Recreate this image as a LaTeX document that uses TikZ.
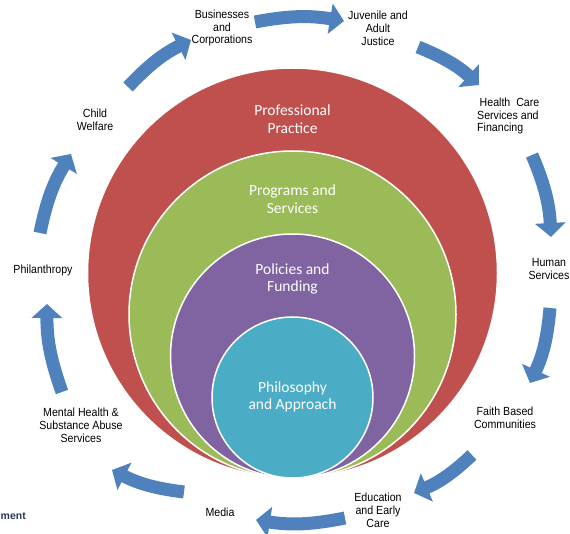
\documentclass[tikz,border=0pt]{standalone}
\usepackage{fontspec}
\setmainfont{Liberation Sans}
\newfontfamily\outerfont[FakeStretch=0.9]{Liberation Sans}
\newfontfamily\innerfont{Carlito}
\usetikzlibrary{arrows.meta}
\definecolor{ringred}{HTML}{C0504D}
\definecolor{ringgreen}{HTML}{9BBB59}
\definecolor{ringpurple}{HTML}{8064A2}
\definecolor{ringteal}{HTML}{4BACC6}
\definecolor{arrowblue}{HTML}{4F81BD}
\definecolor{logotext}{HTML}{2A3A55}
\tikzset{
  outerlabel/.style={font=\outerfont\fontsize{11.8}{12.8}\selectfont, align=center, inner sep=0pt, text=black},
  innerlabel/.style={font=\innerfont\fontsize{15.5}{17.5}\selectfont, align=center, inner sep=0pt, text=white},
  ringdisc/.style={draw=white, line width=1.5pt},
  cyclearrow/.style={draw=arrowblue, line width=13pt, -{Triangle[width=30pt,length=14pt]}, bend left=10},
}
\begin{document}
\begin{tikzpicture}[x=1pt,y=1pt]
\useasboundingbox (0,0) rectangle (570,-534);
\clip (0,0) rectangle (570,-534);

% nested circles
\fill[ringred, ringdisc] (292.5,-273) circle (205);
\fill[ringgreen, ringdisc] (292.5,-314.5) circle (163.5);
\fill[ringpurple, ringdisc] (292.5,-356) circle (122);
\fill[ringteal, ringdisc] (292.5,-397.5) circle (80.5);

% inner texts
\node[innerlabel] (prof) at (292.5,-119) {Professional\\Practice};
\node[innerlabel] (prog) at (292.5,-199) {Programs and\\Services};
\node[innerlabel] (poli) at (292.5,-279) {Policies and\\Funding};
\node[innerlabel] (phil) at (292.5,-397) {Philosophy\\and Approach};

% outer labels
\node[outerlabel] (bus) at (222,-28) {Businesses\\and\\Corporations};
\node[outerlabel] (juv) at (378,-28) {Juvenile and\\Adult\\Justice};
\node[outerlabel, align=left, anchor=west] (hea) at (477,-116) {\hspace{2.5pt}Health\ \ Care\\Services and\\Financing};
\node[outerlabel] (hum) at (549,-269) {Human\\Services};
\node[outerlabel] (fai) at (505,-417.5) {Faith Based\\Communities};
\node[outerlabel] (edu) at (378,-510) {Education\\and Early\\Care};
\node[outerlabel] (med) at (220,-512) {Media};
\node[outerlabel] (men) at (81,-425.5) {Mental Health \&\\Substance Abuse\\Services};
\node[outerlabel] (phi) at (43,-270) {Philanthropy};
\node[outerlabel] (chi) at (95,-120) {Child\\Welfare};
\node[font=\bfseries\fontsize{10.5}{11}\selectfont, text=logotext, anchor=west, inner sep=0pt] (logo) at (0.5,-516) {ment};

% arrow end points
\coordinate (a1s) at (255,-22);  \coordinate (a1e) at (344,-21);
\coordinate (a2s) at (418,-47);  \coordinate (a2e) at (479,-85);
\coordinate (a3s) at (532,-155); \coordinate (a3e) at (551,-237);
\coordinate (a4s) at (550,-308); \coordinate (a4e) at (530,-383);
\coordinate (a5s) at (472,-455); \coordinate (a5e) at (414,-493);
\coordinate (a6s) at (345,-518); \coordinate (a6e) at (256,-520);
\coordinate (a7s) at (184,-492); \coordinate (a7e) at (112,-470);
\coordinate (a8s) at (62,-392);  \coordinate (a8e) at (47,-304);
\coordinate (a9s) at (40,-233);  \coordinate (a9e) at (71,-154);
\coordinate (a10s) at (128,-87); \coordinate (a10e) at (191,-40);

\foreach \i in {1,...,10} {
  \draw[cyclearrow] (a\i s) to (a\i e);
}
\end{tikzpicture}
\end{document}
